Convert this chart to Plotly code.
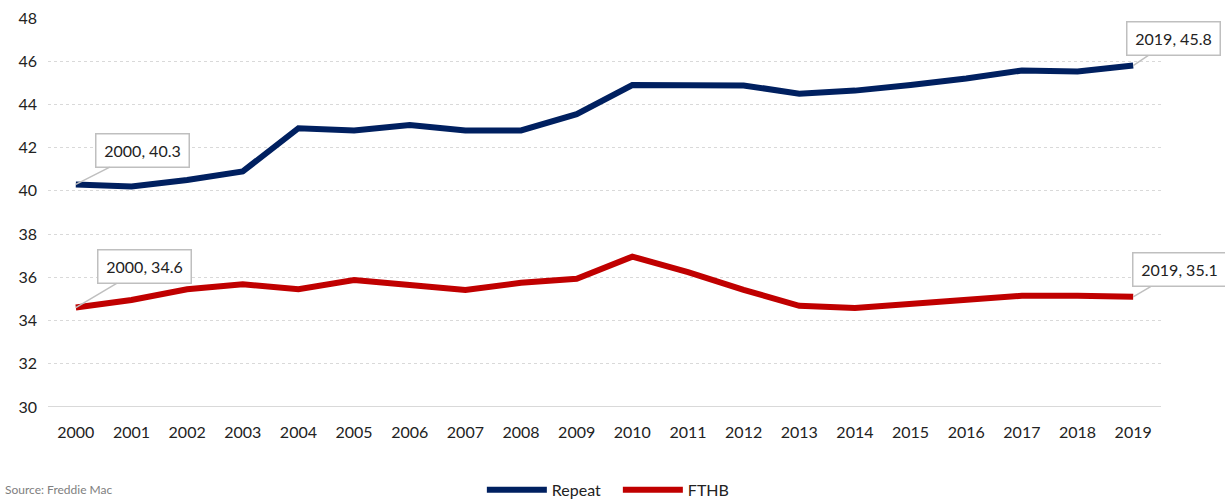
import plotly.graph_objects as go

years = [str(y) for y in range(2000, 2020)]
repeat = [40.3, 40.2, 40.5, 40.9, 42.9, 42.8, 43.05, 42.8, 42.8, 43.55,
          44.9, 44.9, 44.88, 44.5, 44.64, 44.9, 45.2, 45.57, 45.52, 45.8]
fthb = [34.6, 34.95, 35.45, 35.68, 35.45, 35.88, 35.65, 35.42, 35.75, 35.93,
        36.96, 36.24, 35.42, 34.68, 34.58, 34.75, 34.98, 35.15, 35.15, 35.1]
y_ticks = [30, 32, 34, 36, 38, 40, 42, 44, 46, 48]

NAVY = "#002060"
RED = "#C00000"
FONT = "Lato"

fig = go.Figure()
fig.add_trace(go.Scatter(x=years, y=repeat, mode="lines", name="Repeat",
                         line=dict(color=NAVY, width=6)))
fig.add_trace(go.Scatter(x=years, y=fthb, mode="lines", name="FTHB",
                         line=dict(color=RED, width=6)))

callouts = [
    (0, repeat, 67, -34),
    (0, fthb, 69, -41),
    (19, repeat, 40, -27),
    (19, fthb, 46, -27),
]
for idx, series, ax, ay in callouts:
    fig.add_annotation(
        x=idx, y=series[idx], text=f"{years[idx]}, {series[idx]:.1f}",
        showarrow=True, arrowhead=0, arrowwidth=1.5, arrowcolor="#BFBFBF",
        ax=ax, ay=ay, bgcolor="white", bordercolor="#BFBFBF", borderwidth=1.5,
        borderpad=6, width=80, height=20,
        font=dict(family=FONT, size=16, color="#222222"),
    )

fig.add_annotation(xref="paper", yref="paper", x=-0.0404, y=-0.2365,
                   xanchor="left", yanchor="bottom", showarrow=False,
                   text="Source: Freddie Mac",
                   font=dict(family=FONT, size=12, color="#808080"))

fig.update_layout(
    width=1225, height=502,
    margin=dict(l=48, r=64, t=18, b=95, autoexpand=False),
    paper_bgcolor="white", plot_bgcolor="white",
    font=dict(family=FONT, size=16, color="#222222"),
    showlegend=True,
    legend=dict(orientation="h", x=0.512, xanchor="center", y=-0.213,
                yanchor="middle", font=dict(family=FONT, size=16, color="#222222"),
                itemwidth=60, entrywidth=61, entrywidthmode="pixels",
                traceorder="normal"),
)
fig.update_xaxes(type="category", range=[-0.5, 19.5], showgrid=False,
                 showline=False, zeroline=False, ticks="",
                 tickfont=dict(size=16), ticklabelstandoff=14)
fig.update_yaxes(range=[30, 48], tickvals=y_ticks, showgrid=True,
                 gridcolor="#D9D9D9", griddash="dot", gridwidth=1,
                 zeroline=False, showline=False, ticks="",
                 tickfont=dict(size=16), ticklabelstandoff=10)
fig.add_shape(type="line", xref="paper", yref="y", x0=0, x1=1, y0=30, y1=30,
              line=dict(color="#D9D9D9", width=2), layer="below")

fig.write_html("out.html")
